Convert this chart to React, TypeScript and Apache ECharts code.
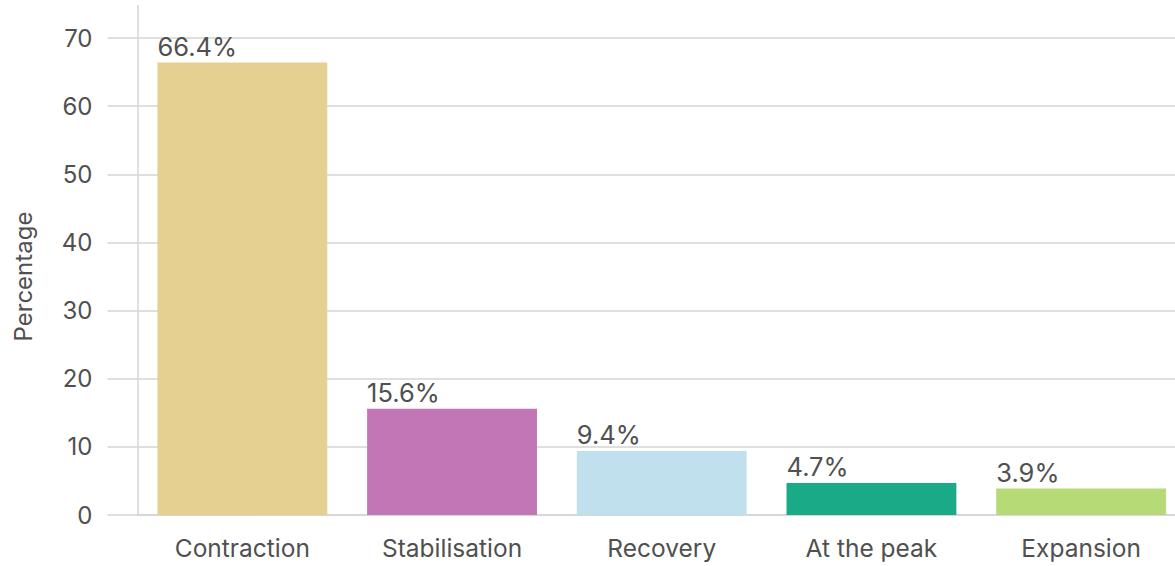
import React, { useEffect, useRef } from "react";
import * as echarts from "echarts";

const categories = ["Contraction", "Stabilisation", "Recovery", "At the peak", "Expansion"];
const values = [66.4, 15.6, 9.4, 4.7, 3.9];
const barColors = ["#E6D091", "#C276B5", "#C0E0ED", "#1AAA88", "#B5DA76"];
const yTicks = { min: 0, max: 70, interval: 10 };

const FONT = "Inter, 'Liberation Sans', Arial, sans-serif";
const TEXT = "#505050";
const GRID = "#D4D4D4";

export default function App() {
  const ref = useRef<HTMLDivElement>(null);

  useEffect(() => {
    if (!ref.current) return;
    const chart = echarts.init(ref.current, null, { renderer: "svg" });
    const gridLeft = 137.5;
    const gridTop = 38;
    const gridHeight = 477;
    chart.setOption({
      animation: false,
      textStyle: { fontFamily: FONT },
      grid: { left: gridLeft, top: gridTop, right: 0, height: gridHeight },
      xAxis: {
        type: "category",
        data: categories,
        axisLine: { show: true, lineStyle: { color: GRID, width: 1.5 } },
        axisTick: { show: false },
        axisLabel: { color: TEXT, fontSize: 24.5, fontFamily: FONT, margin: 20 },
      },
      yAxis: {
        type: "value",
        min: yTicks.min,
        max: yTicks.max,
        interval: yTicks.interval,
        name: "Percentage",
        nameLocation: "middle",
        nameGap: 102,
        nameTextStyle: { color: TEXT, fontSize: 24, fontFamily: FONT },
        axisLine: { show: false },
        axisTick: { show: true, length: 30, lineStyle: { color: GRID, width: 1.5 } },
        axisLabel: { color: TEXT, fontSize: 24, fontFamily: FONT, margin: 45 },
        splitLine: { show: true, lineStyle: { color: GRID, width: 1.5 } },
      },
      graphic: [
        {
          type: "line",
          shape: { x1: gridLeft + 0.5, y1: 5, x2: gridLeft + 0.5, y2: gridTop + gridHeight },
          style: { stroke: GRID, lineWidth: 1.5 },
          z: 0,
        },
      ],
      series: [
        {
          type: "bar",
          data: values.map((v, i) => ({ value: v, itemStyle: { color: barColors[i] } })),
          barCategoryGap: "19%",
          label: {
            show: true,
            position: [0, -3],
            align: "left",
            verticalAlign: "bottom",
            color: TEXT,
            fontSize: 25.5,
            fontFamily: FONT,
            formatter: (p: any) => `${p.value}%`,
          },
          z: 2,
        },
      ],
    });
    return () => chart.dispose();
  }, []);

  // The plot runs slightly past the right edge of the frame and is cut off there.
  return (
    <div style={{ width: 1175, height: 566, position: "absolute", left: 0, top: 0, overflow: "hidden" }}>
      <div ref={ref} style={{ width: 1186, height: 566 }} />
    </div>
  );
}
